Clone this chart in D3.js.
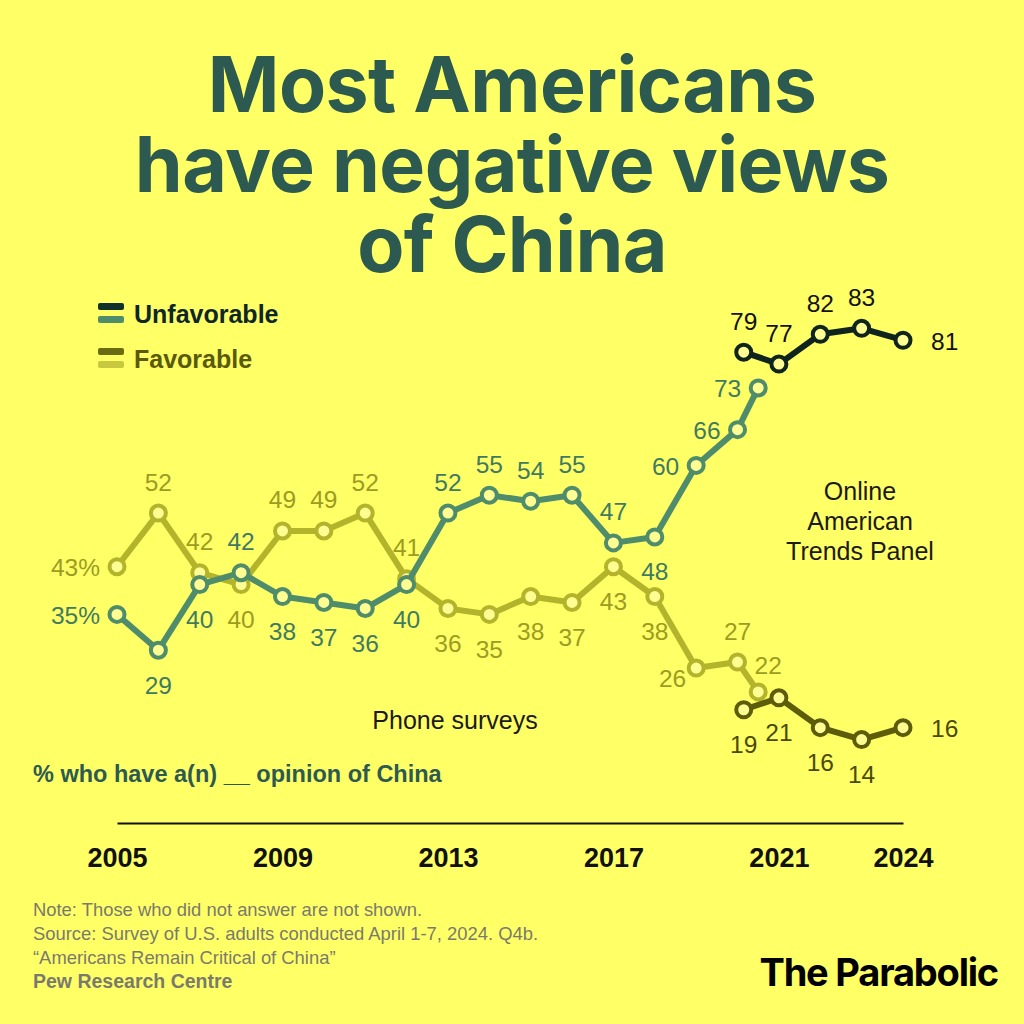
<!DOCTYPE html>
<html>
<head>
<meta charset="utf-8">
<script src="https://cdn.jsdelivr.net/npm/d3@7"></script>
<style>
  html, body { margin: 0; padding: 0; background: #ffff66; }
  svg { display: block; }
</style>
</head>
<body>
<script>
// ---------------- DATA ----------------
const titleLines = ["Most Americans", "have negative views", "of China"];
const phoneYears = [2005, 2006, 2007, 2008, 2009, 2010, 2011, 2012, 2013, 2014, 2015, 2016, 2017, 2018, 2019, 2020, 2020.5];
const phoneUnfav = [35, 29, 40, 42, 38, 37, 36, 40, 52, 55, 54, 55, 47, 48, 60, 66, 73];
const phoneFav   = [43, 52, 42, 40, 49, 49, 52, 41, 36, 35, 38, 37, 43, 38, 26, 27, 22];
const onlineYears = [2020.15, 2021, 2022, 2023, 2024];
const onlineUnfav = [79, 77, 82, 83, 81];
const onlineFav   = [19, 21, 16, 14, 16];
const tickYears = [2005, 2009, 2013, 2017, 2021, 2024];
// label placement codes (a = above, b = below, l = left, r = right)
const phoneUnfavPlace = ["l","b","b","a","b","b","b","b","a","a","a","a","a","b","l","l","l"];
const phoneFavPlace   = ["l","a","a","b","a","a","a","a","b","b","b","b","b","b","lb","a","ar"];
const onlineUnfavPlace = ["a","a","a","a","r"];
const onlineFavPlace   = ["b","b","b","b","r"];
const legendItems = ["Unfavorable", "Favorable"];
const notes = [
  "Note: Those who did not answer are not shown.",
  "Source: Survey of U.S. adults conducted April 1-7, 2024. Q4b.",
  "\u201CAmericans Remain Critical of China\u201D"
];
const sourceName = "Pew Research Centre";
const brand = "The Parabolic";
const subtitle = "% who have a(n) __ opinion of China";
const panelLines = ["Online", "American", "Trends Panel"];
const phoneNote = "Phone surveys";

// ---------------- CHART ----------------
const W = 1024, H = 1024;
const svg = d3.select("body").append("svg").attr("width", W).attr("height", H);
svg.append("rect").attr("width", W).attr("height", H).attr("fill", "#ffff66");

const x = d3.scaleLinear().domain([2005, 2024]).range([117, 903]);
const y = d3.scaleLinear().domain([0, 100]).range([823, 227]);
const SANS = "'Liberation Sans', Arial, sans-serif";

// Title (one text element, one tspan per line)
const titleColor = "#2c5a50";
const title = svg.append("text")
  .attr("text-anchor", "middle")
  .attr("font-family", "Inter, 'Liberation Sans', sans-serif")
  .attr("font-weight", 700)
  .attr("font-size", 77)
  .attr("letter-spacing", -0.6)
  .attr("fill", titleColor);
titleLines.forEach((t, i) => {
  title.append("tspan").attr("x", 512).attr("y", 112 + i * 80).text(t);
});

// Legend
const legendColors = [
  { top: "#10302c", bottom: "#4f8c6c", text: "#0f2626" },
  { top: "#6b6b12", bottom: "#c8c840", text: "#5a5a0a" }
];
legendItems.forEach((t, i) => {
  const gy = 303 + i * 45;
  const c = legendColors[i];
  svg.append("rect").attr("x", 98).attr("y", gy).attr("width", 26).attr("height", 7).attr("rx", 2).attr("fill", c.top);
  svg.append("rect").attr("x", 98).attr("y", gy + 13).attr("width", 26).attr("height", 7).attr("rx", 2).attr("fill", c.bottom);
  svg.append("text").attr("x", 134).attr("y", gy + 20)
    .attr("font-family", SANS)
    .attr("font-weight", 700).attr("font-size", 25)
    .attr("fill", c.text).text(t);
});

// Axis
const axisG = svg.append("g").attr("transform", `translate(0,${y(0)})`);
const axis = d3.axisBottom(x).tickValues(tickYears).tickFormat(d3.format("d")).tickSize(0).tickPadding(25);
axisG.call(axis);
axisG.select(".domain").attr("stroke", "#111").attr("stroke-width", 2.2);
axisG.selectAll(".tick text")
  .attr("font-family", SANS)
  .attr("font-weight", 700).attr("font-size", 27).attr("fill", "#111");

// Series
const line = d3.line().x(d => x(d.year)).y(d => y(d.value));
function series(years, values, places, lineColor, labelColor, suffixFirst) {
  const data = years.map((yr, i) => ({ year: yr, value: values[i], place: places[i], i }));
  const g = svg.append("g");
  g.append("path").datum(data).attr("d", line)
    .attr("fill", "none").attr("stroke", lineColor).attr("stroke-width", 6)
    .attr("stroke-linejoin", "round");
  g.selectAll("circle").data(data).join("circle")
    .attr("cx", d => x(d.year)).attr("cy", d => y(d.value)).attr("r", 7.5)
    .attr("fill", "#fdfd92").attr("stroke", lineColor).attr("stroke-width", 4);
  g.selectAll("text").data(data).join("text")
    .attr("font-family", SANS)
    .attr("font-size", 24.5)
    .attr("fill", labelColor)
    .attr("dominant-baseline", "central")
    .attr("text-anchor", d => d.place === "l" || d.place === "lb" ? "end" : d.place === "r" ? "start" : "middle")
    .attr("x", d => {
      const px = x(d.year);
      if (d.place === "l") return px - 17;
      if (d.place === "lb") return px - 10;
      if (d.place === "r") return px + 28;
      if (d.place === "ar") return px + 10;
      return px;
    })
    .attr("y", d => {
      const py = y(d.value);
      if (d.place === "a") return py - 31;
      if (d.place === "b") return py + 35;
      if (d.place === "lb") return py + 10;
      if (d.place === "ar") return py - 26;
      return py + 1;
    })
    .text(d => d.value + (suffixFirst && d.i === 0 ? "%" : ""));
}
series(phoneYears, phoneFav, phoneFavPlace, "#b4b42c", "#9c9c22", true);
series(phoneYears, phoneUnfav, phoneUnfavPlace, "#4f8c6c", "#3f7a62", true);
series(onlineYears, onlineFav, onlineFavPlace, "#5c5c0a", "#4a4a08", false);
series(onlineYears, onlineUnfav, onlineUnfavPlace, "#10241e", "#111", false);

// Annotations
svg.append("text").attr("x", 455).attr("y", 720).attr("text-anchor", "middle")
  .attr("dominant-baseline", "central")
  .attr("font-family", SANS).attr("font-size", 25)
  .attr("fill", "#1a1a1a").text(phoneNote);
panelLines.forEach((t, i) => {
  svg.append("text").attr("x", 860).attr("y", 491 + i * 30).attr("text-anchor", "middle")
    .attr("dominant-baseline", "central")
    .attr("font-family", SANS).attr("font-size", 25)
    .attr("fill", "#1a1a1a").text(t);
});

// Subtitle
svg.append("text").attr("x", 33).attr("y", 782)
  .attr("font-family", SANS)
  .attr("font-weight", 700).attr("font-size", 23.5)
  .attr("fill", "#2c5a50").text(subtitle);

// Notes
notes.forEach((t, i) => {
  svg.append("text").attr("x", 33).attr("y", 916 + i * 24)
    .attr("font-family", SANS)
    .attr("font-size", 18.4).attr("fill", "#7a7a6c").text(t);
});
svg.append("text").attr("x", 33).attr("y", 988)
  .attr("font-family", SANS)
  .attr("font-weight", 700).attr("font-size", 19.5).attr("fill", "#7a7a6c").text(sourceName);

// Brand
svg.append("text").attr("x", 998).attr("y", 986).attr("text-anchor", "end")
  .attr("font-family", "Inter, 'Liberation Sans', sans-serif")
  .attr("font-weight", 700).attr("font-size", 38).attr("letter-spacing", -1.2)
  .attr("fill", "#000").text(brand);
</script>
</body>
</html>
